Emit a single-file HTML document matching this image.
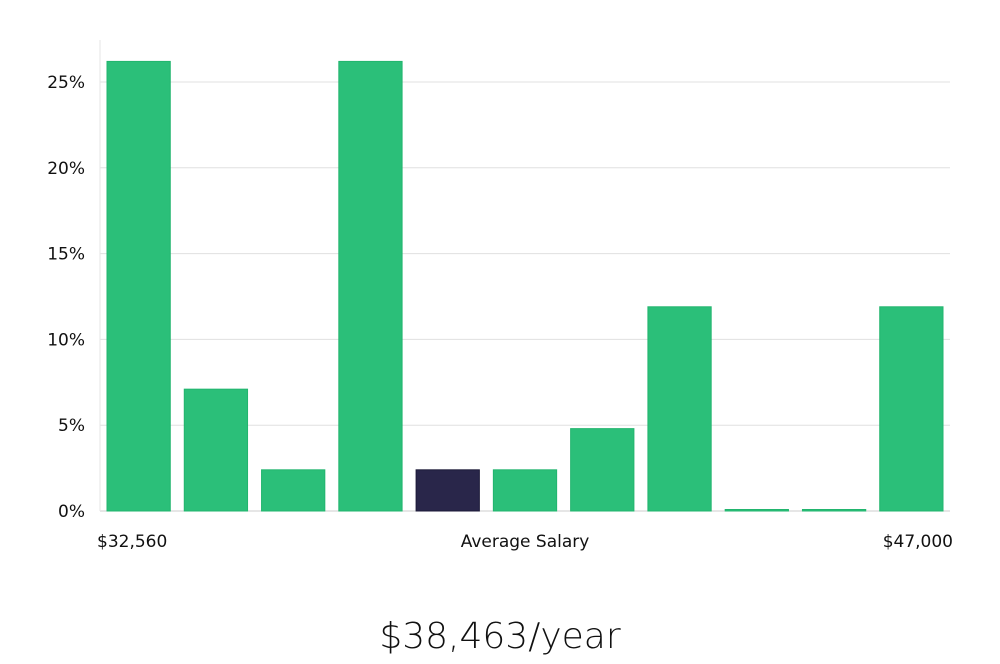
<!DOCTYPE html>
<html><head><meta charset="utf-8"><style>
body{margin:0;background:#fff;width:1000px;height:660px;overflow:hidden;font-family:"DejaVu Sans","Liberation Sans",sans-serif}
</style></head><body>
<svg id="chart" width="1000" height="660" xmlns="http://www.w3.org/2000/svg">
<g id="grid"></g><g id="bars"></g><g id="labels"></g>
<text x="500" y="648" text-anchor="middle" font-family="DejaVu Sans, Liberation Sans, sans-serif" font-size="36" font-weight="300" fill="#111">$38,463/year</text>
</svg>
<script>
const categories=["b1","b2","b3","b4","b5","b6","b7","b8","b9","b10","b11"];
const values=[26.2,7.1,2.4,26.2,2.4,2.4,4.8,11.9,0,0,11.9];
const highlightIndex=4;
const yTicks=[0,5,10,15,20,25];
const yTickLabels=["0%","5%","10%","15%","20%","25%"];
const xLabels=["$32,560","Average Salary","$47,000"];
const NS="http://www.w3.org/2000/svg";
const left=100,right=950,y0=511,pxPer=17.16;
const y=v=>y0-v*pxPer;
const band=(right-left)/categories.length;
const x=i=>left+i*band+7;
const bw=band-14;
function mk(t,a,p){const e=document.createElementNS(NS,t);for(const k in a)e.setAttribute(k,a[k]);p.appendChild(e);return e;}
const g=document.getElementById('grid');
yTicks.forEach((t,i)=>{
 const l=mk('line',{x1:left,x2:right,y1:y(t),y2:y(t),stroke:t===0?'#ccc':'#e0e0e0','stroke-width':1},g);
 
 
 const tx=mk('text',{x:85,y:y(t)+6,'text-anchor':'end','font-size':17,fill:'#111'},g);
 tx.textContent=yTickLabels[i];
 
 
});
const ax=mk('line',{x1:left,x2:left,y1:40,y2:y0,stroke:'#e6e6e6'},g);


const b=document.getElementById('bars');
values.forEach((v,i)=>{
 const h=Math.max(v*pxPer,1.5);
 const r=mk('rect',{x:x(i),y:y0-h,width:bw,height:h,fill:i===highlightIndex?'#29264a':'#2bbf79',stroke:i===highlightIndex?'#1c1a38':'#22b56e','stroke-width':1},b);
 
 
});
const lb=document.getElementById('labels');
[[97,'start'],[525,'middle'],[953,'end']].forEach((p,i)=>{
 const t=mk('text',{x:p[0],y:547,'text-anchor':p[1],'font-size':17,fill:'#111'},lb);
 t.textContent=xLabels[i];
 
 
});
</script>
</body></html>
